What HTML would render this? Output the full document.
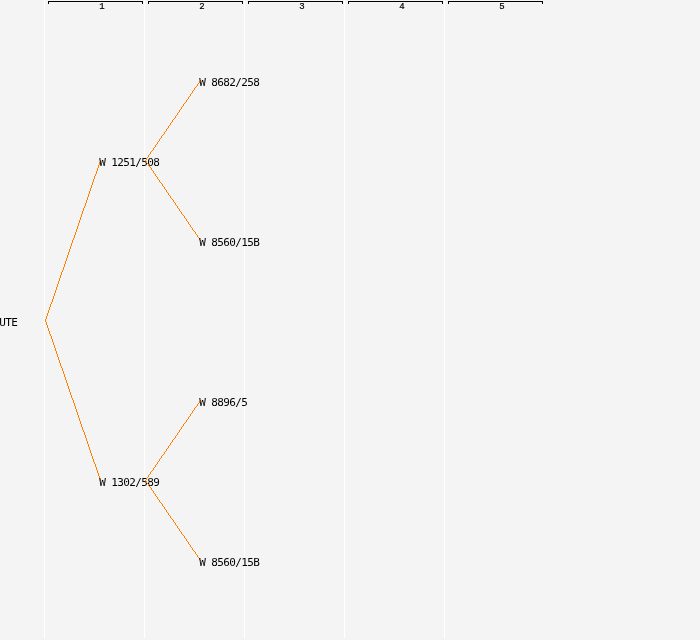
<!DOCTYPE html>
<html>
<head>
<meta charset="utf-8">
<title>Tree</title>
<style>
html,body{margin:0;padding:0;}
body{width:700px;height:640px;background:#f4f4f4;position:relative;overflow:hidden;}
.vl{position:absolute;top:0;width:1px;height:638px;background:#ffffff;}
.br{position:absolute;top:1px;height:2px;width:93px;border-top:1px solid #000;border-left:1px solid #000;border-right:1px solid #000;}
.num{position:absolute;top:1px;width:20px;text-align:center;font-family:"Liberation Mono",monospace;font-size:9px;line-height:12px;color:#000;-webkit-text-stroke:0.2px #000;}
.t{position:absolute;font-family:"DejaVu Sans Mono","Liberation Mono",monospace;font-size:11px;letter-spacing:-0.62px;line-height:14px;color:#000;white-space:pre;}
svg{position:absolute;left:0;top:0;}
</style>
</head>
<body>
<div class="vl" style="left:44px"></div>
<div class="vl" style="left:144px"></div>
<div class="vl" style="left:244px"></div>
<div class="vl" style="left:344px"></div>
<div class="vl" style="left:444px"></div>

<div class="br" style="left:48px"></div>
<div class="br" style="left:148px"></div>
<div class="br" style="left:248px"></div>
<div class="br" style="left:348px"></div>
<div class="br" style="left:448px"></div>

<div class="num" style="left:92px">1</div>
<div class="num" style="left:192px">2</div>
<div class="num" style="left:292px">3</div>
<div class="num" style="left:392px">4</div>
<div class="num" style="left:492px">5</div>

<div class="t" style="left:-0.75px;top:316px">UTE</div>

<svg width="700" height="640" shape-rendering="crispEdges"><path fill="#ff8000" d="M100 160h1v2h-1zM99 162h1v3h-1zM98 165h1v3h-1zM97 168h1v3h-1zM96 171h1v3h-1zM95 174h1v2h-1zM94 176h1v3h-1zM93 179h1v3h-1zM92 182h1v3h-1zM91 185h1v3h-1zM90 188h1v3h-1zM89 191h1v3h-1zM88 194h1v3h-1zM87 197h1v3h-1zM86 200h1v3h-1zM85 203h1v3h-1zM84 206h1v2h-1zM83 208h1v3h-1zM82 211h1v3h-1zM81 214h1v3h-1zM80 217h1v3h-1zM79 220h1v3h-1zM78 223h1v3h-1zM77 226h1v3h-1zM76 229h1v3h-1zM75 232h1v3h-1zM74 235h1v3h-1zM73 238h1v2h-1zM72 240h1v3h-1zM71 243h1v3h-1zM70 246h1v3h-1zM69 249h1v3h-1zM68 252h1v3h-1zM67 255h1v3h-1zM66 258h1v3h-1zM65 261h1v3h-1zM64 264h1v3h-1zM63 267h1v3h-1zM62 270h1v2h-1zM61 272h1v3h-1zM60 275h1v3h-1zM59 278h1v3h-1zM58 281h1v3h-1zM57 284h1v3h-1zM56 287h1v3h-1zM55 290h1v3h-1zM54 293h1v3h-1zM53 296h1v3h-1zM52 299h1v3h-1zM51 302h1v2h-1zM50 304h1v3h-1zM49 307h1v3h-1zM48 310h1v3h-1zM47 313h1v3h-1zM46 316h1v3h-1zM45 319h1v2h-1zM45 320h1v2h-1zM46 322h1v3h-1zM47 325h1v3h-1zM48 328h1v3h-1zM49 331h1v3h-1zM50 334h1v2h-1zM51 336h1v3h-1zM52 339h1v3h-1zM53 342h1v3h-1zM54 345h1v3h-1zM55 348h1v3h-1zM56 351h1v3h-1zM57 354h1v3h-1zM58 357h1v3h-1zM59 360h1v3h-1zM60 363h1v3h-1zM61 366h1v2h-1zM62 368h1v3h-1zM63 371h1v3h-1zM64 374h1v3h-1zM65 377h1v3h-1zM66 380h1v3h-1zM67 383h1v3h-1zM68 386h1v3h-1zM69 389h1v3h-1zM70 392h1v3h-1zM71 395h1v3h-1zM72 398h1v2h-1zM73 400h1v3h-1zM74 403h1v3h-1zM75 406h1v3h-1zM76 409h1v3h-1zM77 412h1v3h-1zM78 415h1v3h-1zM79 418h1v3h-1zM80 421h1v3h-1zM81 424h1v3h-1zM82 427h1v3h-1zM83 430h1v2h-1zM84 432h1v3h-1zM85 435h1v3h-1zM86 438h1v3h-1zM87 441h1v3h-1zM88 444h1v3h-1zM89 447h1v3h-1zM90 450h1v3h-1zM91 453h1v3h-1zM92 456h1v3h-1zM93 459h1v3h-1zM94 462h1v2h-1zM95 464h1v3h-1zM96 467h1v3h-1zM97 470h1v3h-1zM98 473h1v3h-1zM99 476h1v3h-1zM100 479h1v2h-1z"/></svg>

<div class="t" style="left:99.25px;top:156px">W 1251/508</div>
<div class="t" style="left:99.25px;top:476px">W 1302/589</div>

<svg width="700" height="640" shape-rendering="crispEdges"><path fill="#ff8000" d="M200 80h1v1h-1zM199 81h1v2h-1zM198 83h1v1h-1zM197 84h1v2h-1zM196 86h1v1h-1zM195 87h1v1h-1zM194 88h1v2h-1zM193 90h1v1h-1zM192 91h1v2h-1zM191 93h1v1h-1zM190 94h1v2h-1zM189 96h1v1h-1zM188 97h1v2h-1zM187 99h1v1h-1zM186 100h1v2h-1zM185 102h1v1h-1zM184 103h1v1h-1zM183 104h1v2h-1zM182 106h1v1h-1zM181 107h1v2h-1zM180 109h1v1h-1zM179 110h1v2h-1zM178 112h1v1h-1zM177 113h1v2h-1zM176 115h1v1h-1zM175 116h1v2h-1zM174 118h1v1h-1zM173 119h1v1h-1zM172 120h1v2h-1zM171 122h1v1h-1zM170 123h1v2h-1zM169 125h1v1h-1zM168 126h1v2h-1zM167 128h1v1h-1zM166 129h1v2h-1zM165 131h1v1h-1zM164 132h1v2h-1zM163 134h1v1h-1zM162 135h1v1h-1zM161 136h1v2h-1zM160 138h1v1h-1zM159 139h1v2h-1zM158 141h1v1h-1zM157 142h1v2h-1zM156 144h1v1h-1zM155 145h1v2h-1zM154 147h1v1h-1zM153 148h1v2h-1zM152 150h1v1h-1zM151 151h1v1h-1zM150 152h1v2h-1zM149 154h1v1h-1zM148 155h1v2h-1zM147 157h1v1h-1zM146 158h1v2h-1zM145 160h1v1h-1zM145 160h1v1h-1zM146 161h1v2h-1zM147 163h1v1h-1zM148 164h1v2h-1zM149 166h1v1h-1zM150 167h1v1h-1zM151 168h1v2h-1zM152 170h1v1h-1zM153 171h1v2h-1zM154 173h1v1h-1zM155 174h1v2h-1zM156 176h1v1h-1zM157 177h1v2h-1zM158 179h1v1h-1zM159 180h1v2h-1zM160 182h1v1h-1zM161 183h1v1h-1zM162 184h1v2h-1zM163 186h1v1h-1zM164 187h1v2h-1zM165 189h1v1h-1zM166 190h1v2h-1zM167 192h1v1h-1zM168 193h1v2h-1zM169 195h1v1h-1zM170 196h1v2h-1zM171 198h1v1h-1zM172 199h1v1h-1zM173 200h1v2h-1zM174 202h1v1h-1zM175 203h1v2h-1zM176 205h1v1h-1zM177 206h1v2h-1zM178 208h1v1h-1zM179 209h1v2h-1zM180 211h1v1h-1zM181 212h1v2h-1zM182 214h1v1h-1zM183 215h1v1h-1zM184 216h1v2h-1zM185 218h1v1h-1zM186 219h1v2h-1zM187 221h1v1h-1zM188 222h1v2h-1zM189 224h1v1h-1zM190 225h1v2h-1zM191 227h1v1h-1zM192 228h1v2h-1zM193 230h1v1h-1zM194 231h1v1h-1zM195 232h1v2h-1zM196 234h1v1h-1zM197 235h1v2h-1zM198 237h1v1h-1zM199 238h1v2h-1zM200 240h1v1h-1zM200 400h1v1h-1zM199 401h1v2h-1zM198 403h1v1h-1zM197 404h1v2h-1zM196 406h1v1h-1zM195 407h1v1h-1zM194 408h1v2h-1zM193 410h1v1h-1zM192 411h1v2h-1zM191 413h1v1h-1zM190 414h1v2h-1zM189 416h1v1h-1zM188 417h1v2h-1zM187 419h1v1h-1zM186 420h1v2h-1zM185 422h1v1h-1zM184 423h1v1h-1zM183 424h1v2h-1zM182 426h1v1h-1zM181 427h1v2h-1zM180 429h1v1h-1zM179 430h1v2h-1zM178 432h1v1h-1zM177 433h1v2h-1zM176 435h1v1h-1zM175 436h1v2h-1zM174 438h1v1h-1zM173 439h1v1h-1zM172 440h1v2h-1zM171 442h1v1h-1zM170 443h1v2h-1zM169 445h1v1h-1zM168 446h1v2h-1zM167 448h1v1h-1zM166 449h1v2h-1zM165 451h1v1h-1zM164 452h1v2h-1zM163 454h1v1h-1zM162 455h1v1h-1zM161 456h1v2h-1zM160 458h1v1h-1zM159 459h1v2h-1zM158 461h1v1h-1zM157 462h1v2h-1zM156 464h1v1h-1zM155 465h1v2h-1zM154 467h1v1h-1zM153 468h1v2h-1zM152 470h1v1h-1zM151 471h1v1h-1zM150 472h1v2h-1zM149 474h1v1h-1zM148 475h1v2h-1zM147 477h1v1h-1zM146 478h1v2h-1zM145 480h1v1h-1zM145 480h1v1h-1zM146 481h1v2h-1zM147 483h1v1h-1zM148 484h1v2h-1zM149 486h1v1h-1zM150 487h1v1h-1zM151 488h1v2h-1zM152 490h1v1h-1zM153 491h1v2h-1zM154 493h1v1h-1zM155 494h1v2h-1zM156 496h1v1h-1zM157 497h1v2h-1zM158 499h1v1h-1zM159 500h1v2h-1zM160 502h1v1h-1zM161 503h1v1h-1zM162 504h1v2h-1zM163 506h1v1h-1zM164 507h1v2h-1zM165 509h1v1h-1zM166 510h1v2h-1zM167 512h1v1h-1zM168 513h1v2h-1zM169 515h1v1h-1zM170 516h1v2h-1zM171 518h1v1h-1zM172 519h1v1h-1zM173 520h1v2h-1zM174 522h1v1h-1zM175 523h1v2h-1zM176 525h1v1h-1zM177 526h1v2h-1zM178 528h1v1h-1zM179 529h1v2h-1zM180 531h1v1h-1zM181 532h1v2h-1zM182 534h1v1h-1zM183 535h1v1h-1zM184 536h1v2h-1zM185 538h1v1h-1zM186 539h1v2h-1zM187 541h1v1h-1zM188 542h1v2h-1zM189 544h1v1h-1zM190 545h1v2h-1zM191 547h1v1h-1zM192 548h1v2h-1zM193 550h1v1h-1zM194 551h1v1h-1zM195 552h1v2h-1zM196 554h1v1h-1zM197 555h1v2h-1zM198 557h1v1h-1zM199 558h1v2h-1zM200 560h1v1h-1z"/></svg>

<div class="t" style="left:199.25px;top:76px">W 8682/258</div>
<div class="t" style="left:199.25px;top:236px">W 8560/15B</div>
<div class="t" style="left:199.25px;top:396px">W 8896/5</div>
<div class="t" style="left:199.25px;top:556px">W 8560/15B</div>
</body>
</html>
